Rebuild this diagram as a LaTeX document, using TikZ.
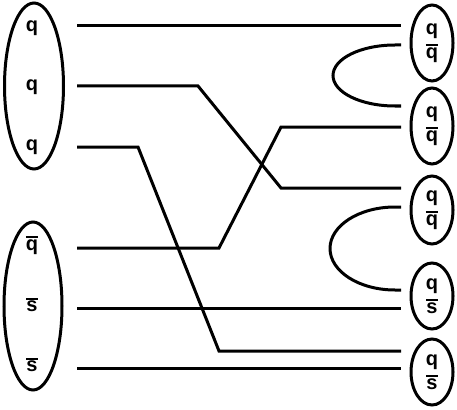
\documentclass[tikz,border=0pt]{standalone}
\usepackage{fontspec}
\setmainfont{Liberation Sans}
\usetikzlibrary{shapes.geometric,positioning}
\newcommand{\barq}[1]{\leavevmode\vbox{\hrule height 1.8pt\kern 1.6pt\hbox{#1}}}

\begin{document}
\begin{tikzpicture}[x=1pt,y=-1pt,
  every node/.style={font=\fontsize{20}{24}\selectfont\bfseries,align=center,inner sep=0pt},
  hadron/.style={draw,ellipse,line width=3pt},
  meson/.style={hadron,minimum width=42pt},
  quark/.style={line width=3pt,line join=miter}]
\useasboundingbox (0,0) rectangle (457,409);
% initial state
\node[hadron,minimum width=59pt,minimum height=166pt] (baryon) at (34,86) {};
\node (q1) at (32,28) {q}; \node (q2) at (32,87) {q}; \node (q3) at (32,147) {q};
\node[hadron,minimum width=58pt,minimum height=168pt] (antibaryon) at (33,306) {};
\node (a1) at (32,245) {\barq{q}}; \node (a2) at (32,305) {\barq{s}}; \node (a3) at (32,365) {\barq{s}};
% final state
\node[meson,minimum height=76pt] (m1) at (432,43) {q\\\barq{q}};
\node[meson,minimum height=76pt] (m2) at (432,126) {q\\\barq{q}};
\node[meson,minimum height=68pt] (m3) at (432,210) {q\\\barq{q}};
\node[meson,minimum height=66pt] (m4) at (432,296) {q\\\barq{s}};
\node[meson,minimum height=66pt] (m5) at (432,372) {q\\\barq{s}};
% line ends
\foreach \n/\y in {1/26,2/86,3/147,4/248,5/308,6/368} \coordinate (s\n) at (77,\y);
\foreach \n/\y in {1/26,2/188,3/351,4/127,5/308,6/368} \coordinate (e\n) at (401,\y);
\coordinate (la) at (401,45); \coordinate (lb) at (401,106);
\coordinate (lc) at (401,207); \coordinate (ld) at (401,290);
% quark lines
\draw[quark] (s1) -- (e1);
\draw[quark] (s2) -- (198,86) -- (281,188) -- (e2);
\draw[quark] (s3) -- (138,147) -- (219,351) -- (e3);
\draw[quark] (s4) -- (219,248) -- (281,127) -- (e4);
\draw[quark] (s5) -- (e5); \draw[quark] (s6) -- (e6);
% pair creation
\draw[quark] (la) -- ++(-6,0) arc[start angle=270,end angle=90,x radius=62,y radius=30.5] -- (lb);
\draw[quark] (lc) -- ++(-6,0) arc[start angle=270,end angle=90,x radius=65,y radius=41.5] -- (ld);
\end{tikzpicture}
\end{document}
